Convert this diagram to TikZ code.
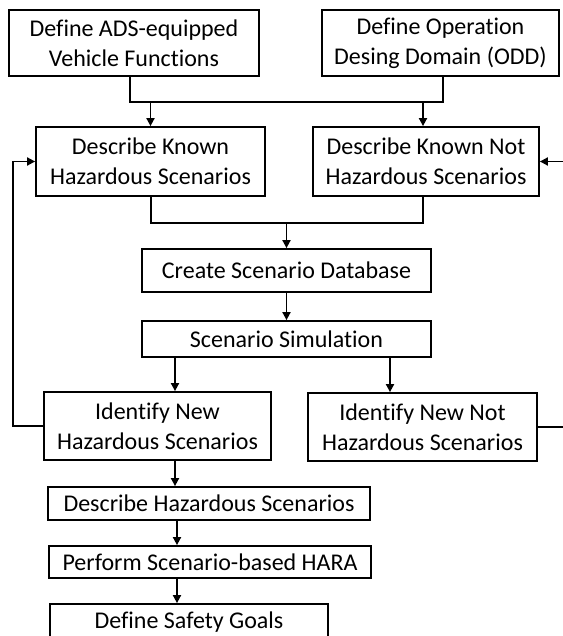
\documentclass[tikz,border=0pt]{standalone}
\usepackage{fontspec}
\setmainfont{Carlito}[Ligatures={NoCommon,NoContextual}]
\usetikzlibrary{arrows.meta}

\begin{document}
\begin{tikzpicture}[x=1pt,y=-1pt,
  box/.style={draw, line width=1.8pt, inner sep=0pt, align=center,
    font=\fontsize{24}{30}\selectfont},
  link/.style={line width=1.8pt},
  arr/.style={line width=1.8pt, -{Triangle[length=8pt,width=8pt]}}]
  \useasboundingbox (0,0) rectangle (562,636);

  % process boxes (centre, width, height)
  \node[box, minimum width=250pt, minimum height=66pt] (b1) at (134,43)
    {Define ADS-equipped\\Vehicle Functions};
  \node[box, minimum width=237pt, minimum height=66pt] (b2) at (440.5,43)
    {Define Operation\\Desing Domain (ODD)};
  \node[box, minimum width=229pt, minimum height=69pt] (b3) at (150.5,161.5)
    {Describe Known\\Hazardous Scenarios};
  \node[box, minimum width=226pt, minimum height=69pt] (b4) at (426,161.5)
    {Describe Known Not\\Hazardous Scenarios};
  \node[box, minimum width=289pt, minimum height=43pt] (b5) at (286.5,270.5)
    {Create Scenario Database};
  \node[box, minimum width=289pt, minimum height=36pt] (b6) at (286.5,339)
    {Scenario Simulation};
  \node[box, minimum width=227pt, minimum height=68pt] (b7) at (157.5,426)
    {Identify New\\Hazardous Scenarios};
  \node[box, minimum width=229pt, minimum height=68pt] (b8) at (422.5,427)
    {Identify New Not\\Hazardous Scenarios};
  \node[box, minimum width=322pt, minimum height=33pt] (b9) at (209,503.5)
    {Describe Hazardous Scenarios};
  \node[box, minimum width=322pt, minimum height=32pt] (b10) at (210,562)
    {Perform Scenario-based HARA};
  \node[box, minimum width=278pt, minimum height=36pt] (b11) at (189,622)
    {Define Safety Goals};

  % merge of the two definition steps
  \coordinate (m1l) at (130,102);
  \coordinate (m1r) at (443,102);
  \coordinate (a4) at (423,102);
  \draw[link] (b1.south -| m1l) -- (m1l) -- (m1r) -- (b2.south -| m1r);
  \draw[arr] (b3.north |- m1l) -- (b3.north);
  \draw[arr] (a4) -- (a4 |- b4.north);

  % merge of the known scenario descriptions
  \coordinate (m2l) at (151,223);
  \coordinate (m2r) at (423,223);
  \draw[link] (b3.south -| m2l) -- (m2l) -- (m2r) -- (b4.south -| m2r);
  \draw[arr] (b5.north |- m2l) -- (b5.north);

  % database to simulation
  \draw[arr] (b5.south) -- (b6.north);

  % simulation splits into the two outcomes
  \coordinate (s1) at (175,357);
  \coordinate (s2) at (390,357);
  \draw[arr] (s1) -- (s1 |- b7.north);
  \draw[arr] (s2) -- (s2 |- b8.north);

  % feedback loops
  \coordinate (fl) at (13,300);
  \coordinate (fr) at (575,300);
  \draw[arr] (b7.west) -- (b7.west -| fl) -- (fl |- b3.west) -- (b3.west);
  \draw[arr] (b8.east) -- (b8.east -| fr) -- (fr |- b4.east) -- (b4.east);

  % final chain
  \coordinate (c1) at (175,460);
  \coordinate (c2) at (177,520);
  \coordinate (c3) at (177,578);
  \draw[arr] (c1) -- (c1 |- b9.north);
  \draw[arr] (c2) -- (c2 |- b10.north);
  \draw[arr] (c3) -- (c3 |- b11.north);
\end{tikzpicture}
\end{document}
